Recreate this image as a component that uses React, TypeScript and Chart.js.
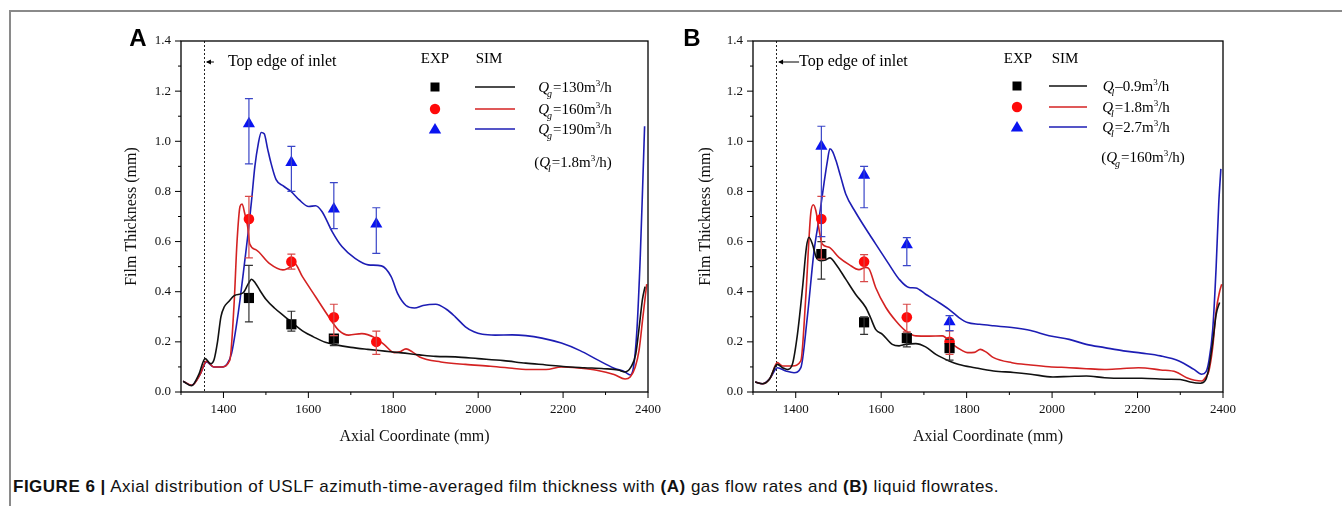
import React, { useEffect, useRef } from 'react';
import { Chart, registerables } from 'chart.js';

Chart.register(...registerables);

// ---------- axes ----------
const X_MIN = 1300;
const X_MAX = 2400;
const Y_MIN = 0;
const Y_MAX = 1.4;
const X_MAJOR = [1400, 1600, 1800, 2000, 2200, 2400];
const X_MINOR = [1300, 1500, 1700, 1900, 2100, 2300];
const Y_MAJOR = [0, 0.2, 0.4, 0.6, 0.8, 1.0, 1.2, 1.4];
const Y_MINOR = [0.1, 0.3, 0.5, 0.7, 0.9, 1.1, 1.3];
const INLET_X = 1354;
const EXP_X = [1460, 1560, 1660, 1760];

// ---------- panel A : gas flow rates (SIM) ----------
const A_130_X = [1305, 1325, 1342, 1357, 1370, 1378, 1386, 1394, 1402, 1412, 1426, 1446, 1458, 1466, 1475, 1486, 1500, 1520, 1545, 1565, 1590, 1612, 1640, 1665, 1700, 1740, 1780, 1820, 1862, 1900, 1946, 2000, 2060, 2112, 2160, 2200, 2250, 2296, 2330, 2346, 2360, 2371, 2380, 2387, 2393];
const A_130_Y = [0.043, 0.025, 0.07, 0.133, 0.113, 0.13, 0.2, 0.3, 0.34, 0.36, 0.385, 0.395, 0.43, 0.45, 0.435, 0.405, 0.37, 0.335, 0.3, 0.272, 0.24, 0.22, 0.198, 0.188, 0.178, 0.17, 0.163, 0.156, 0.148, 0.142, 0.14, 0.133, 0.125, 0.115, 0.108, 0.102, 0.097, 0.093, 0.088, 0.08, 0.1, 0.15, 0.27, 0.37, 0.42];
const A_160_X = [1305, 1326, 1345, 1360, 1377, 1395, 1415, 1425, 1432, 1439, 1444, 1450, 1457, 1462, 1477, 1508, 1540, 1559, 1567, 1586, 1617, 1648, 1671, 1695, 1726, 1756, 1780, 1802, 1815, 1830, 1845, 1862, 1912, 1970, 2029, 2080, 2112, 2160, 2196, 2240, 2279, 2320, 2346, 2358, 2370, 2379, 2388, 2397];
const A_160_Y = [0.043, 0.027, 0.07, 0.123, 0.1, 0.1, 0.127, 0.35, 0.6, 0.74, 0.75, 0.713, 0.66, 0.59, 0.567, 0.513, 0.487, 0.5, 0.513, 0.46, 0.38, 0.3, 0.247, 0.227, 0.233, 0.217, 0.187, 0.157, 0.16, 0.172, 0.16, 0.14, 0.12, 0.11, 0.103, 0.095, 0.09, 0.09, 0.1, 0.095, 0.087, 0.07, 0.052, 0.06, 0.1, 0.167, 0.3, 0.43];
const A_190_X = [1305, 1325, 1345, 1360, 1377, 1395, 1408, 1419, 1430, 1439, 1450, 1458, 1466, 1474, 1482, 1489, 1496, 1504, 1512, 1524, 1540, 1559, 1578, 1601, 1617, 1632, 1656, 1679, 1710, 1741, 1772, 1795, 1811, 1830, 1850, 1870, 1900, 1925, 1946, 1970, 1990, 2010, 2040, 2080, 2112, 2150, 2196, 2240, 2279, 2320, 2346, 2358, 2366, 2374, 2382, 2388, 2392];
const A_190_Y = [0.043, 0.027, 0.07, 0.12, 0.1, 0.1, 0.11, 0.153, 0.26, 0.367, 0.52, 0.633, 0.76, 0.9, 0.99, 1.035, 1.03, 0.97, 0.913, 0.847, 0.823, 0.8, 0.767, 0.74, 0.743, 0.72, 0.64, 0.58, 0.533, 0.507, 0.503, 0.46, 0.39, 0.345, 0.335, 0.345, 0.35, 0.33, 0.3, 0.26, 0.24, 0.23, 0.227, 0.228, 0.225, 0.215, 0.195, 0.165, 0.13, 0.095, 0.08, 0.068, 0.1, 0.25, 0.55, 0.85, 1.06];

// panel A : EXP
const A_EXP_130 = [0.375, 0.27, 0.213];
const A_EXP_130_LO = [0.28, 0.243, 0.185];
const A_EXP_130_HI = [0.505, 0.322, 0.225];
const A_EXP_160 = [0.69, 0.52, 0.298, 0.2];
const A_EXP_160_LO = [0.535, 0.49, 0.225, 0.15];
const A_EXP_160_HI = [0.78, 0.55, 0.35, 0.243];
const A_EXP_190 = [1.07, 0.915, 0.73, 0.67];
const A_EXP_190_LO = [0.91, 0.8, 0.652, 0.553];
const A_EXP_190_HI = [1.17, 0.98, 0.835, 0.735];

// ---------- panel B : liquid flow rates (SIM) ----------
const B_09_X = [1305, 1322, 1338, 1357, 1369, 1380, 1392, 1404, 1416, 1425, 1431, 1439, 1448, 1459, 1470, 1480, 1494, 1517, 1540, 1564, 1575, 1587, 1603, 1626, 1642, 1657, 1681, 1704, 1728, 1759, 1782, 1819, 1863, 1910, 1950, 2002, 2040, 2080, 2123, 2170, 2210, 2271, 2300, 2323, 2347, 2360, 2367, 2376, 2384, 2392];
const B_09_Y = [0.04, 0.033, 0.05, 0.11, 0.097, 0.09, 0.11, 0.23, 0.417, 0.577, 0.617, 0.59, 0.537, 0.524, 0.527, 0.535, 0.51, 0.45, 0.39, 0.337, 0.297, 0.25, 0.23, 0.19, 0.184, 0.19, 0.193, 0.18, 0.15, 0.124, 0.11, 0.097, 0.084, 0.078, 0.071, 0.06, 0.062, 0.064, 0.057, 0.055, 0.055, 0.051, 0.05, 0.04, 0.035, 0.05, 0.097, 0.2, 0.31, 0.357];
const B_18_X = [1305, 1322, 1340, 1357, 1369, 1392, 1412, 1423, 1435, 1441, 1447, 1455, 1462, 1478, 1501, 1525, 1548, 1564, 1572, 1587, 1611, 1634, 1657, 1681, 1712, 1743, 1767, 1790, 1802, 1818, 1832, 1845, 1863, 1906, 1950, 1993, 2040, 2080, 2123, 2160, 2202, 2254, 2290, 2315, 2350, 2360, 2367, 2376, 2384, 2392, 2397];
const B_18_Y = [0.04, 0.033, 0.055, 0.117, 0.104, 0.104, 0.124, 0.364, 0.71, 0.747, 0.724, 0.644, 0.59, 0.577, 0.537, 0.508, 0.488, 0.497, 0.49, 0.417, 0.337, 0.284, 0.244, 0.224, 0.223, 0.224, 0.19, 0.165, 0.157, 0.158, 0.17, 0.16, 0.137, 0.117, 0.108, 0.101, 0.097, 0.093, 0.09, 0.093, 0.097, 0.088, 0.08, 0.057, 0.044, 0.06, 0.084, 0.18, 0.324, 0.4, 0.43];
const B_27_X = [1305, 1322, 1340, 1357, 1377, 1396, 1412, 1427, 1443, 1455, 1466, 1474, 1480, 1486, 1494, 1505, 1517, 1540, 1572, 1595, 1618, 1642, 1665, 1681, 1704, 1735, 1763, 1782, 1802, 1830, 1863, 1906, 1950, 1993, 2040, 2080, 2123, 2167, 2210, 2254, 2297, 2332, 2350, 2360, 2367, 2376, 2384, 2390, 2395];
const B_27_Y = [0.04, 0.033, 0.055, 0.097, 0.084, 0.077, 0.097, 0.297, 0.564, 0.697, 0.83, 0.92, 0.97, 0.96, 0.924, 0.86, 0.79, 0.717, 0.63, 0.57, 0.51, 0.45, 0.417, 0.415, 0.39, 0.357, 0.324, 0.297, 0.277, 0.27, 0.264, 0.257, 0.245, 0.224, 0.21, 0.19, 0.177, 0.164, 0.155, 0.144, 0.124, 0.09, 0.071, 0.08, 0.124, 0.25, 0.5, 0.75, 0.89];

// panel B : EXP
const B_EXP_09 = [0.55, 0.278, 0.215, 0.175];
const B_EXP_09_LO = [0.45, 0.23, 0.18, 0.127];
const B_EXP_09_HI = [0.6, 0.3, 0.235, 0.21];
const B_EXP_18 = [0.69, 0.52, 0.298, 0.2];
const B_EXP_18_LO = [0.53, 0.44, 0.24, 0.15];
const B_EXP_18_HI = [0.78, 0.548, 0.35, 0.244];
const B_EXP_27 = [0.98, 0.865, 0.587, 0.28];
const B_EXP_27_LO = [0.62, 0.735, 0.504, 0.245];
const B_EXP_27_HI = [1.06, 0.9, 0.616, 0.305];

// ---------- text ----------
const A_LEGEND_VALUES = ['=130m', '=160m', '=190m'];
const B_LEGEND_VALUES = ['\u20130.9m', '=1.8m', '=2.7m'];
const X_TITLE = 'Axial Coordinate (mm)';
const Y_TITLE = 'Film Thickness (mm)';
const INLET_TEXT = 'Top edge of inlet';

const SERIF = '"Liberation Serif", "Times New Roman", serif';
const SANS = '"Liberation Sans", Arial, sans-serif';

const BLACK = '#111111';
const RED_LINE = '#d42222';
const BLUE_LINE = '#1d1db4';
const RED_MK = '#ff0a0a';
const BLUE_MK = '#0a14f0';

type Seg = { t: string; k?: 'i' | 'isub' | 'sup' };

interface ExpSeries { y: number[]; lo: number[]; hi: number[]; color: string; bar: string; style: 'rect' | 'circle' | 'triangle'; }
interface SimSeries { x: number[]; y: number[]; color: string; }
interface PanelCfg {
  letter: string;
  letterDx: number;
  padLeft: number;
  padRight: number;
  yWidth: number;
  sim: SimSeries[];
  exp: ExpSeries[];
  labels: Seg[][];
  paren: Seg[];
  lg: { exp: number; sim: number; mk: number; l0: number; l1: number; lab: number; par: number; head: number; rows: number[]; parY: number };
  arrowLen: number;
  textDx: number;
}

const qLabel = (sub: string, val: string): Seg[] => [
  { t: 'Q', k: 'i' }, { t: sub, k: 'isub' }, { t: val }, { t: '3', k: 'sup' }, { t: '/h' },
];

const PANEL_A: PanelCfg = {
  letter: 'A',
  letterDx: -43,
  padLeft: 122,
  padRight: 17,
  yWidth: 59,
  sim: [
    { x: A_130_X, y: A_130_Y, color: BLACK },
    { x: A_160_X, y: A_160_Y, color: RED_LINE },
    { x: A_190_X, y: A_190_Y, color: BLUE_LINE },
  ],
  exp: [
    { y: A_EXP_130, lo: A_EXP_130_LO, hi: A_EXP_130_HI, color: '#000000', bar: '#333333', style: 'rect' },
    { y: A_EXP_160, lo: A_EXP_160_LO, hi: A_EXP_160_HI, color: RED_MK, bar: '#d84848', style: 'circle' },
    { y: A_EXP_190, lo: A_EXP_190_LO, hi: A_EXP_190_HI, color: BLUE_MK, bar: '#3a46c8', style: 'triangle' },
  ],
  labels: A_LEGEND_VALUES.map((v) => qLabel('g', v)),
  paren: [{ t: '(' }, ...qLabel('l', '=1.8m'), { t: ')' }],
  lg: { exp: 254, sim: 308, mk: 254, l0: 294, l1: 334, lab: 394, par: 392, head: 18, rows: [46, 68, 88], parY: 121 },
  arrowLen: 8,
  textDx: 24,
};

const PANEL_B: PanelCfg = {
  letter: 'B',
  letterDx: -61,
  padLeft: 25,
  padRight: 119,
  yWidth: 57,
  sim: [
    { x: B_09_X, y: B_09_Y, color: BLACK },
    { x: B_18_X, y: B_18_Y, color: RED_LINE },
    { x: B_27_X, y: B_27_Y, color: BLUE_LINE },
  ],
  exp: [
    { y: B_EXP_09, lo: B_EXP_09_LO, hi: B_EXP_09_HI, color: '#000000', bar: '#333333', style: 'rect' },
    { y: B_EXP_18, lo: B_EXP_18_LO, hi: B_EXP_18_HI, color: RED_MK, bar: '#d84848', style: 'circle' },
    { y: B_EXP_27, lo: B_EXP_27_LO, hi: B_EXP_27_HI, color: BLUE_MK, bar: '#3a46c8', style: 'triangle' },
  ],
  labels: B_LEGEND_VALUES.map((v) => qLabel('l', v)),
  paren: [{ t: '(' }, ...qLabel('g', '=160m'), { t: ')' }],
  lg: { exp: 265, sim: 312, mk: 264, l0: 296, l1: 334, lab: 383, par: 390, head: 18, rows: [45, 66, 86], parY: 116 },
  arrowLen: 21,
  textDx: 23,
};

function drawRich(ctx: CanvasRenderingContext2D, segs: Seg[], x: number, y: number, size: number) {
  const fontOf = (k?: string) =>
    k === 'i' ? `italic ${size}px ${SERIF}` : k === 'isub' ? `italic ${Math.round(size * 0.68)}px ${SERIF}` : k === 'sup' ? `${Math.round(size * 0.62)}px ${SERIF}` : `${size}px ${SERIF}`;
  let w = 0;
  for (const s of segs) {
    ctx.font = fontOf(s.k);
    w += ctx.measureText(s.t).width + (s.k === 'isub' ? -1 : 0);
  }
  let cx = x - w / 2;
  ctx.textAlign = 'left';
  ctx.textBaseline = 'alphabetic';
  for (const s of segs) {
    ctx.font = fontOf(s.k);
    const dy = s.k === 'isub' ? size * 0.3 : s.k === 'sup' ? -size * 0.4 : 0;
    const dx = s.k === 'isub' ? -2 : 0;
    ctx.fillText(s.t, cx + dx, y + dy);
    cx += ctx.measureText(s.t).width + (s.k === 'isub' ? -1 : 0);
  }
}

function drawMarker(ctx: CanvasRenderingContext2D, style: string, x: number, y: number, color: string) {
  ctx.fillStyle = color;
  ctx.beginPath();
  if (style === 'rect') {
    ctx.rect(x - 4.5, y - 4.5, 9, 9);
  } else if (style === 'circle') {
    ctx.arc(x, y, 5.2, 0, Math.PI * 2);
  } else {
    ctx.moveTo(x, y - 6);
    ctx.lineTo(x + 6.2, y + 4.5);
    ctx.lineTo(x - 6.2, y + 4.5);
    ctx.closePath();
  }
  ctx.fill();
}

function makeDecor(p: PanelCfg) {
  return {
    id: 'decor' + p.letter,
    beforeDatasetsDraw(chart: any) {
      const { ctx, chartArea: a, scales } = chart;
      const xs = scales.x;
      ctx.save();
      const dx = Math.round(xs.getPixelForValue(INLET_X)) + 0.5;
      ctx.strokeStyle = '#222';
      ctx.lineWidth = 1;
      ctx.setLineDash([2, 2]);
      ctx.beginPath();
      ctx.moveTo(dx, a.top);
      ctx.lineTo(dx, a.bottom);
      ctx.stroke();
      ctx.setLineDash([]);
      ctx.restore();
    },
    afterDatasetsDraw(chart: any) {
      const { ctx, scales } = chart;
      const xs = scales.x;
      const ys = scales.y;
      ctx.save();
      ctx.lineWidth = 1.2;
      for (const s of p.exp) {
        ctx.strokeStyle = s.bar;
        s.y.forEach((_, i) => {
          const px = xs.getPixelForValue(EXP_X[i]);
          const yl = ys.getPixelForValue(s.lo[i]);
          const yh = ys.getPixelForValue(s.hi[i]);
          ctx.beginPath();
          ctx.moveTo(px, yl);
          ctx.lineTo(px, yh);
          ctx.moveTo(px - 4, yl);
          ctx.lineTo(px + 4, yl);
          ctx.moveTo(px - 4, yh);
          ctx.lineTo(px + 4, yh);
          ctx.stroke();
        });
      }
      ctx.restore();
    },
    afterDraw(chart: any) {
      const { ctx, chartArea: a, scales } = chart;
      const xs = scales.x;
      const ys = scales.y;
      ctx.save();
      // frame
      ctx.strokeStyle = '#000';
      ctx.lineWidth = 1.3;
      ctx.strokeRect(a.left, a.top, a.right - a.left, a.bottom - a.top);
      // ticks (outward)
      ctx.lineWidth = 1;
      ctx.beginPath();
      for (const v of Y_MAJOR) { const y = ys.getPixelForValue(v); ctx.moveTo(a.left - 6, y); ctx.lineTo(a.left, y); }
      for (const v of Y_MINOR) { const y = ys.getPixelForValue(v); ctx.moveTo(a.left - 3, y); ctx.lineTo(a.left, y); }
      for (const v of X_MAJOR) { const x = xs.getPixelForValue(v); ctx.moveTo(x, a.bottom); ctx.lineTo(x, a.bottom + 6); }
      for (const v of X_MINOR) { const x = xs.getPixelForValue(v); ctx.moveTo(x, a.bottom); ctx.lineTo(x, a.bottom + 3); }
      ctx.stroke();

      // panel letter
      ctx.fillStyle = '#000';
      ctx.font = `bold 24px ${SANS}`;
      ctx.textAlign = 'center';
      ctx.textBaseline = 'middle';
      ctx.fillText(p.letter, a.left + p.letterDx, 39);

      // inlet annotation
      const dx = xs.getPixelForValue(INLET_X);
      const ay = a.top + 21;
      ctx.strokeStyle = '#000';
      ctx.lineWidth = 1;
      ctx.beginPath();
      ctx.moveTo(dx + 2 + p.arrowLen, ay);
      ctx.lineTo(dx + 3, ay);
      ctx.stroke();
      ctx.beginPath();
      ctx.moveTo(dx + 2, ay);
      ctx.lineTo(dx + 7, ay - 2.5);
      ctx.lineTo(dx + 7, ay + 2.5);
      ctx.closePath();
      ctx.fill();
      ctx.font = `16px ${SERIF}`;
      ctx.textAlign = 'left';
      ctx.textBaseline = 'middle';
      ctx.fillText(INLET_TEXT, dx + p.textDx, ay);

      // legend
      const L = p.lg;
      ctx.font = `15px ${SERIF}`;
      ctx.textAlign = 'center';
      ctx.textBaseline = 'middle';
      ctx.fillText('EXP', a.left + L.exp, a.top + L.head);
      ctx.fillText('SIM', a.left + L.sim, a.top + L.head);
      p.exp.forEach((s, i) => {
        const ry = a.top + L.rows[i];
        drawMarker(ctx, s.style, a.left + L.mk, ry, s.color);
        ctx.strokeStyle = p.sim[i].color;
        ctx.lineWidth = 1.6;
        ctx.beginPath();
        ctx.moveTo(a.left + L.l0, ry);
        ctx.lineTo(a.left + L.l1, ry);
        ctx.stroke();
        ctx.fillStyle = '#000';
        drawRich(ctx, p.labels[i], a.left + L.lab, ry + 5, 15);
      });
      drawRich(ctx, p.paren, a.left + L.par, a.top + L.parY + 5, 15);
      ctx.restore();
    },
  };
}

function buildConfig(p: PanelCfg): any {
  const simSets = p.sim.map((s) => ({
    data: s.x.map((x, i) => ({ x, y: s.y[i] })),
    showLine: true,
    borderColor: s.color,
    borderWidth: 1.6,
    pointRadius: 0,
    cubicInterpolationMode: 'monotone',
    order: 2,
  }));
  const expSets = p.exp.map((s) => ({
    data: s.y.map((y, i) => ({ x: EXP_X[i], y })),
    showLine: false,
    pointStyle: s.style,
    pointRadius: s.style === 'rect' ? 7.2 : s.style === 'circle' ? 5.3 : 7,
    backgroundColor: s.color,
    borderColor: s.color,
    borderWidth: 0,
    order: 1,
  }));
  const tickFont = { family: SERIF, size: 13 };
  const titleFont = { family: SERIF, size: 16 };
  return {
    type: 'scatter',
    data: { datasets: [...simSets, ...expSets] },
    options: {
      animation: false,
      responsive: false,
      devicePixelRatio: 1,
      events: [],
      layout: { padding: { left: p.padLeft, right: p.padRight, top: 41, bottom: 24 } },
      plugins: { legend: { display: false }, tooltip: { enabled: false }, title: { display: false } },
      scales: {
        x: {
          type: 'linear',
          min: X_MIN,
          max: X_MAX,
          afterBuildTicks: (sc: any) => { sc.ticks = X_MAJOR.map((v) => ({ value: v })); },
          afterFit: (sc: any) => { sc.height = 54; },
          grid: { display: false, drawTicks: false },
          border: { display: false },
          ticks: { font: tickFont, color: '#111', padding: 10, maxRotation: 0, callback: (v: any) => String(v) },
          title: { display: true, text: X_TITLE, font: titleFont, color: '#111', padding: 0 },
        },
        y: {
          type: 'linear',
          min: Y_MIN,
          max: Y_MAX,
          afterBuildTicks: (sc: any) => { sc.ticks = Y_MAJOR.map((v) => ({ value: v })); },
          afterFit: (sc: any) => { sc.width = p.yWidth; },
          grid: { display: false, drawTicks: false },
          border: { display: false },
          ticks: { font: tickFont, color: '#111', padding: 10, callback: (v: any) => Number(v).toFixed(1) },
          title: { display: true, text: Y_TITLE, font: titleFont, color: '#111', padding: 0 },
        },
      },
    },
    plugins: [makeDecor(p)],
  };
}

function Panel({ cfg, left }: { cfg: PanelCfg; left: number }) {
  const ref = useRef<HTMLCanvasElement | null>(null);
  useEffect(() => {
    const chart = new Chart(ref.current as HTMLCanvasElement, buildConfig(cfg));
    return () => chart.destroy();
  }, [cfg]);
  return (
    <div style={{ position: 'absolute', left, top: 0, width: 671, height: 470 }}>
      <canvas ref={ref} width={671} height={470} style={{ width: 671, height: 470, display: 'block' }} />
    </div>
  );
}

export default function App() {
  return (
    <div style={{ position: 'absolute', left: 0, top: 0, width: 1342, height: 506, overflow: 'hidden', background: '#fff' }}>
      <div style={{ position: 'absolute', left: 9, top: 10, width: 1333, height: 496, borderTop: '2px solid #8a8a8a', borderLeft: '2px solid #8a8a8a', boxSizing: 'border-box' }} />
      <Panel cfg={PANEL_A} left={0} />
      <Panel cfg={PANEL_B} left={671} />
      <div style={{ position: 'absolute', left: 13, top: 477, font: `17px ${SANS}`, letterSpacing: '0.5px', color: '#111', whiteSpace: 'nowrap', lineHeight: '20px' }}>
        <b>FIGURE 6 |</b> Axial distribution of USLF azimuth-time-averaged film thickness with <b>(A)</b> gas flow rates and <b>(B)</b> liquid flowrates.
      </div>
    </div>
  );
}
